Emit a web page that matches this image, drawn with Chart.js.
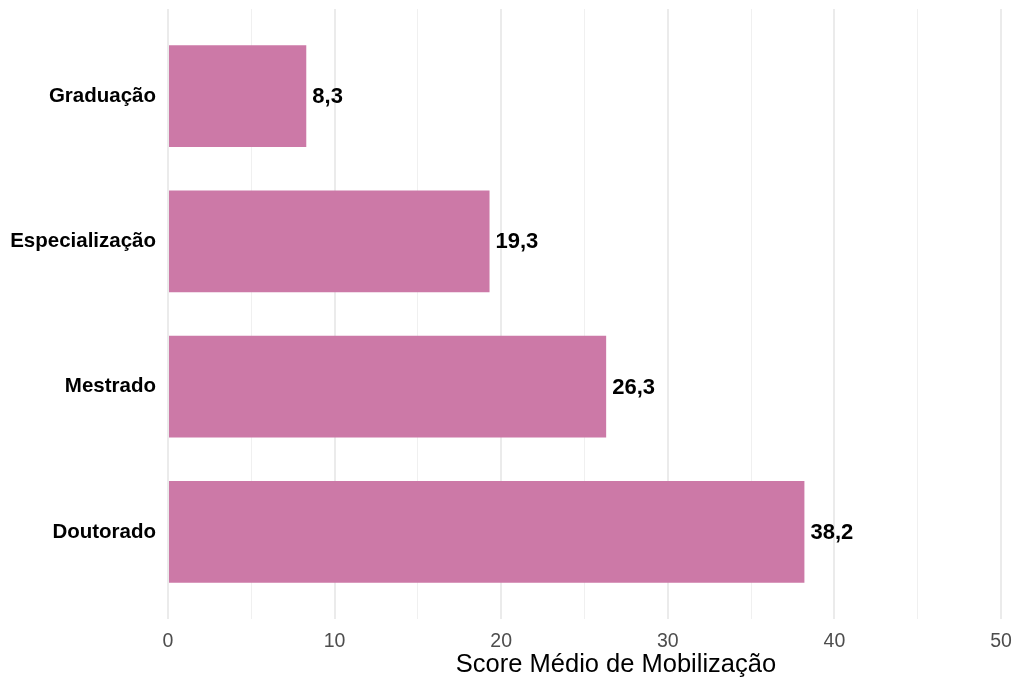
<!DOCTYPE html>
<html>
<head>
<meta charset="utf-8">
<script src="https://cdn.jsdelivr.net/npm/chart.js@4"></script>
<style>
  html, body { margin: 0; padding: 0; background: #fff; }
  #wrap { width: 1015px; height: 681px; }
</style>
</head>
<body>
<div id="wrap"><canvas id="scoreChart" width="1015" height="681"></canvas></div>
<script>
const categories = ['Graduação', 'Especialização', 'Mestrado', 'Doutorado'];
const scores = [8.3, 19.3, 26.3, 38.2];
const xTicks = [0, 10, 20, 30, 40, 50];

const FONT = '"Liberation Sans", Arial, sans-serif';

// ===== Value labels at the end of each bar =====
const valueLabels = {
  id: 'valueLabels',
  afterDatasetsDraw(chart) {
    const { ctx } = chart;
    const meta = chart.getDatasetMeta(0);
    ctx.save();
    ctx.font = 'bold 22px ' + FONT;
    ctx.fillStyle = '#000';
    ctx.textAlign = 'left';
    ctx.textBaseline = 'middle';
    meta.data.forEach((bar, i) => {
      ctx.fillText(scores[i].toFixed(1).replace('.', ','), bar.x + 6, bar.y + 1);
    });
    ctx.restore();
  }
};

// ===== Axis title (drawn by hand, sits right of centre) =====
const axisTitle = {
  id: 'axisTitle',
  afterDraw(chart) {
    const { ctx } = chart;
    ctx.save();
    ctx.font = '25.5px ' + FONT;
    ctx.fillStyle = '#000';
    ctx.textAlign = 'center';
    ctx.textBaseline = 'middle';
    ctx.fillText('Score Médio de Mobilização', 616, 665);
    ctx.restore();
  }
};

new Chart(document.getElementById('scoreChart').getContext('2d'), {
  type: 'bar',
  data: {
    datasets: [{
      data: scores.map((v, i) => ({ x: v, y: i + 1 })),
      backgroundColor: '#CC79A7',
      borderWidth: 0,
      categoryPercentage: 1,
      barPercentage: 0.7
    }]
  },
  options: {
    indexAxis: 'y',
    responsive: false,
    animation: false,
    layout: { padding: { top: 9, right: 14, left: 0, bottom: 0 } },
    plugins: {
      legend: { display: false },
      tooltip: { enabled: false }
    },
    scales: {
      x: {
        type: 'linear',
        min: 0,
        max: 50,
        border: { display: false },
        afterBuildTicks: (scale) => {
          scale.ticks = [];
          for (let v = 0; v <= 50; v += 5) scale.ticks.push({ value: v });
        },
        afterFit: (scale) => {
          scale.height = 62;
          scale.paddingLeft = 0;
          scale.paddingRight = 0;
        },
        grid: {
          drawTicks: false,
          color: (c) => (c.tick && c.tick.value % 10 === 0 ? '#ebebeb' : '#f0f0f0'),
          lineWidth: (c) => (c.tick && c.tick.value % 10 === 0 ? 2 : 1)
        },
        ticks: {
          padding: 11,
          color: '#4d4d4d',
          font: { family: FONT, size: 19.5 },
          callback: (v) => (xTicks.includes(v) ? String(v) : '')
        }
      },
      y: {
        type: 'linear',
        min: 0.4,
        max: 4.6,
        reverse: true,
        offset: false,
        border: { display: false },
        afterBuildTicks: (scale) => {
          scale.ticks = categories.map((c, i) => ({ value: i + 1 }));
        },
        afterFit: (scale) => {
          scale.width = 168;
          scale.paddingTop = 0;
          scale.paddingBottom = 0;
        },
        grid: { display: false, drawTicks: false, offset: false },
        ticks: {
          padding: 12,
          color: '#000',
          font: { family: FONT, size: 20.5, weight: 'bold' },
          callback: (v) => categories[v - 1] || ''
        }
      }
    }
  },
  plugins: [valueLabels, axisTitle]
});
</script>
</body>
</html>
